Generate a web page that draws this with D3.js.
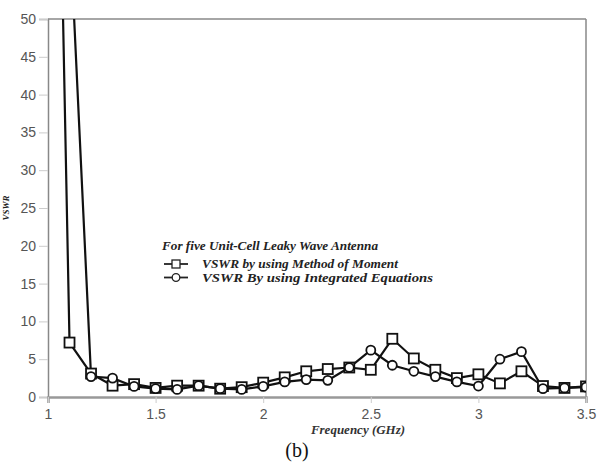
<!DOCTYPE html>
<html>
<head>
<meta charset="utf-8">
<script src="https://cdn.jsdelivr.net/npm/d3@7"></script>
<style>
  body { margin: 0; background: #fff; }
  .tick text { font-family: "Liberation Sans", Arial, sans-serif; font-size: 14px; fill: #555; }
</style>
</head>
<body>
<div class="chart"></div>
<script>
// frequency points (GHz)
var freq = [1.0, 1.1, 1.2, 1.3, 1.4, 1.5, 1.6, 1.7, 1.8, 1.9, 2.0, 2.1, 2.2, 2.3, 2.4,
            2.5, 2.6, 2.7, 2.8, 2.9, 3.0, 3.1, 3.2, 3.3, 3.4, 3.5];

// VSWR by Method of Moment (squares)
var vswrMoM = [150, 7.2, 3.1, 1.5, 1.7, 1.2, 1.5, 1.5, 1.1, 1.3, 1.9, 2.6, 3.4, 3.7, 3.9,
               3.6, 7.7, 5.1, 3.6, 2.5, 3.0, 1.8, 3.4, 1.45, 1.2, 1.4];

// VSWR by Integrated Equations (circles)
var vswrIE = [150, 63, 2.7, 2.5, 1.4, 1.1, 1.0, 1.5, 1.1, 1.0, 1.4, 2.0, 2.3, 2.2, 3.9,
              6.2, 4.2, 3.4, 2.7, 2.0, 1.45, 5.0, 6.0, 1.1, 1.2, 1.3];

var xTicks = [1, 1.5, 2, 2.5, 3, 3.5];
var yTicks = [0, 5, 10, 15, 20, 25, 30, 35, 40, 45, 50];

var svgWidth = 598, svgHeight = 462;
var margin = {top: 19, right: 12, bottom: 65, left: 48};
var width = 586 - margin.left;
var height = 397 - margin.top;

var svg = d3.select(".chart").append("svg")
    .attr("width", svgWidth).attr("height", svgHeight);

var chartGroup = svg.append("g").attr("transform", `translate(${margin.left},${margin.top})`);

var x = d3.scaleLinear().domain([1, 3.5]).range([0, width]);
var y = d3.scaleLinear().domain([0, 50]).range([height, 0]);

svg.append("defs").append("clipPath").attr("id", "plotclip")
    .append("rect").attr("x", 0).attr("y", 0).attr("width", width).attr("height", height);

// frame: top and right border
chartGroup.append("line").attr("x1", 0).attr("x2", width).attr("y1", 0).attr("y2", 0)
    .attr("stroke", "#888").attr("stroke-width", 1.5);
chartGroup.append("line").attr("x1", width).attr("x2", width).attr("y1", 0).attr("y2", height)
    .attr("stroke", "#888").attr("stroke-width", 1.5);

var leftAxis = d3.axisLeft(y).tickValues(yTicks).tickSize(9).tickPadding(3);
var yAxis = chartGroup.append("g").call(leftAxis);
yAxis.select(".domain").attr("stroke", "#888").attr("stroke-width", 1.5);
yAxis.selectAll(".tick line").attr("stroke", "#ccc");

var bottomAxis = d3.axisBottom(x).tickValues(xTicks).tickSize(6).tickPadding(6)
    .tickFormat(d3.format("~g"));
var xAxis = chartGroup.append("g").attr("transform", `translate(0,${height})`).call(bottomAxis);
xAxis.select(".domain").attr("stroke", "#999").attr("stroke-width", 2.5);
xAxis.selectAll(".tick line").attr("stroke", "#ccc");

var plot = chartGroup.append("g").attr("clip-path", "url(#plotclip)");

var line = d3.line().x(d => x(d[0])).y(d => y(d[1]));

var series = [
    {vals: vswrMoM, shape: "square"},
    {vals: vswrIE, shape: "circle"}
];

series.forEach(function(s) {
    var pts = freq.map((f, i) => [f, s.vals[i]]);
    plot.append("path").datum(pts)
        .attr("fill", "none").attr("stroke", "#111").attr("stroke-width", 2.2)
        .attr("d", line);
});

// markers drawn after both lines so they sit on top
series.forEach(function(s) {
    var pts = freq.map((f, i) => [f, s.vals[i]]).filter(d => d[1] <= 50);
    if (s.shape === "square") {
        plot.selectAll(null).data(pts).enter().append("rect")
            .attr("x", d => x(d[0]) - 5).attr("y", d => y(d[1]) - 5)
            .attr("width", 10).attr("height", 10)
            .attr("fill", "#fff").attr("stroke", "#111").attr("stroke-width", 1.8);
    } else {
        plot.selectAll(null).data(pts).enter().append("circle")
            .attr("cx", d => x(d[0])).attr("cy", d => y(d[1])).attr("r", 4.5)
            .attr("fill", "#fff").attr("stroke", "#111").attr("stroke-width", 1.8);
    }
});

// axis titles
svg.append("text")
    .attr("x", 358).attr("y", 434)
    .attr("text-anchor", "middle")
    .attr("font-family", "Liberation Serif, serif").attr("font-style", "italic")
    .attr("font-weight", "bold").attr("font-size", "13px").attr("fill", "#333")
    .text("Frequency (GHz)");

svg.append("text")
    .attr("transform", "translate(9,208) rotate(-90)")
    .attr("text-anchor", "middle")
    .attr("font-family", "Liberation Serif, serif").attr("font-style", "italic")
    .attr("font-weight", "bold").attr("font-size", "9px").attr("fill", "#222")
    .text("VSWR");

svg.append("text")
    .attr("x", 297).attr("y", 457)
    .attr("text-anchor", "middle")
    .attr("font-family", "Liberation Serif, serif").attr("font-size", "20px").attr("fill", "#111")
    .text("(b)");

// legend
var legend = svg.append("g").attr("transform", "translate(162,250)");
legend.append("text").attr("x", 0).attr("y", 0)
    .attr("font-family", "Liberation Serif, serif").attr("font-style", "italic")
    .attr("font-weight", "bold").attr("font-size", "12px").attr("fill", "#222")
    .attr("textLength", 216).attr("lengthAdjust", "spacingAndGlyphs")
    .text("For five Unit-Cell Leaky Wave Antenna");

var legendItems = [
    {label: "VSWR by using Method of Moment", shape: "square", len: 196},
    {label: "VSWR By using Integrated Equations", shape: "circle", len: 231}
];
legendItems.forEach(function(item, i) {
    var g = legend.append("g").attr("transform", `translate(0,${14 + i * 13.5})`);
    g.append("line").attr("x1", 2).attr("x2", 26).attr("y1", 0).attr("y2", 0)
        .attr("stroke", "#222").attr("stroke-width", 1.8);
    if (item.shape === "square") {
        g.append("rect").attr("x", 10).attr("y", -4).attr("width", 8).attr("height", 8)
            .attr("fill", "#fff").attr("stroke", "#222").attr("stroke-width", 1.3);
    } else {
        g.append("circle").attr("cx", 14).attr("cy", 0).attr("r", 3.8)
            .attr("fill", "#fff").attr("stroke", "#222").attr("stroke-width", 1.3);
    }
    g.append("text").attr("x", 40).attr("y", 4)
        .attr("font-family", "Liberation Serif, serif").attr("font-style", "italic")
        .attr("font-weight", "bold").attr("font-size", "11.5px").attr("fill", "#222")
        .attr("textLength", item.len).attr("lengthAdjust", "spacingAndGlyphs")
        .text(item.label);
});
</script>
</body>
</html>
